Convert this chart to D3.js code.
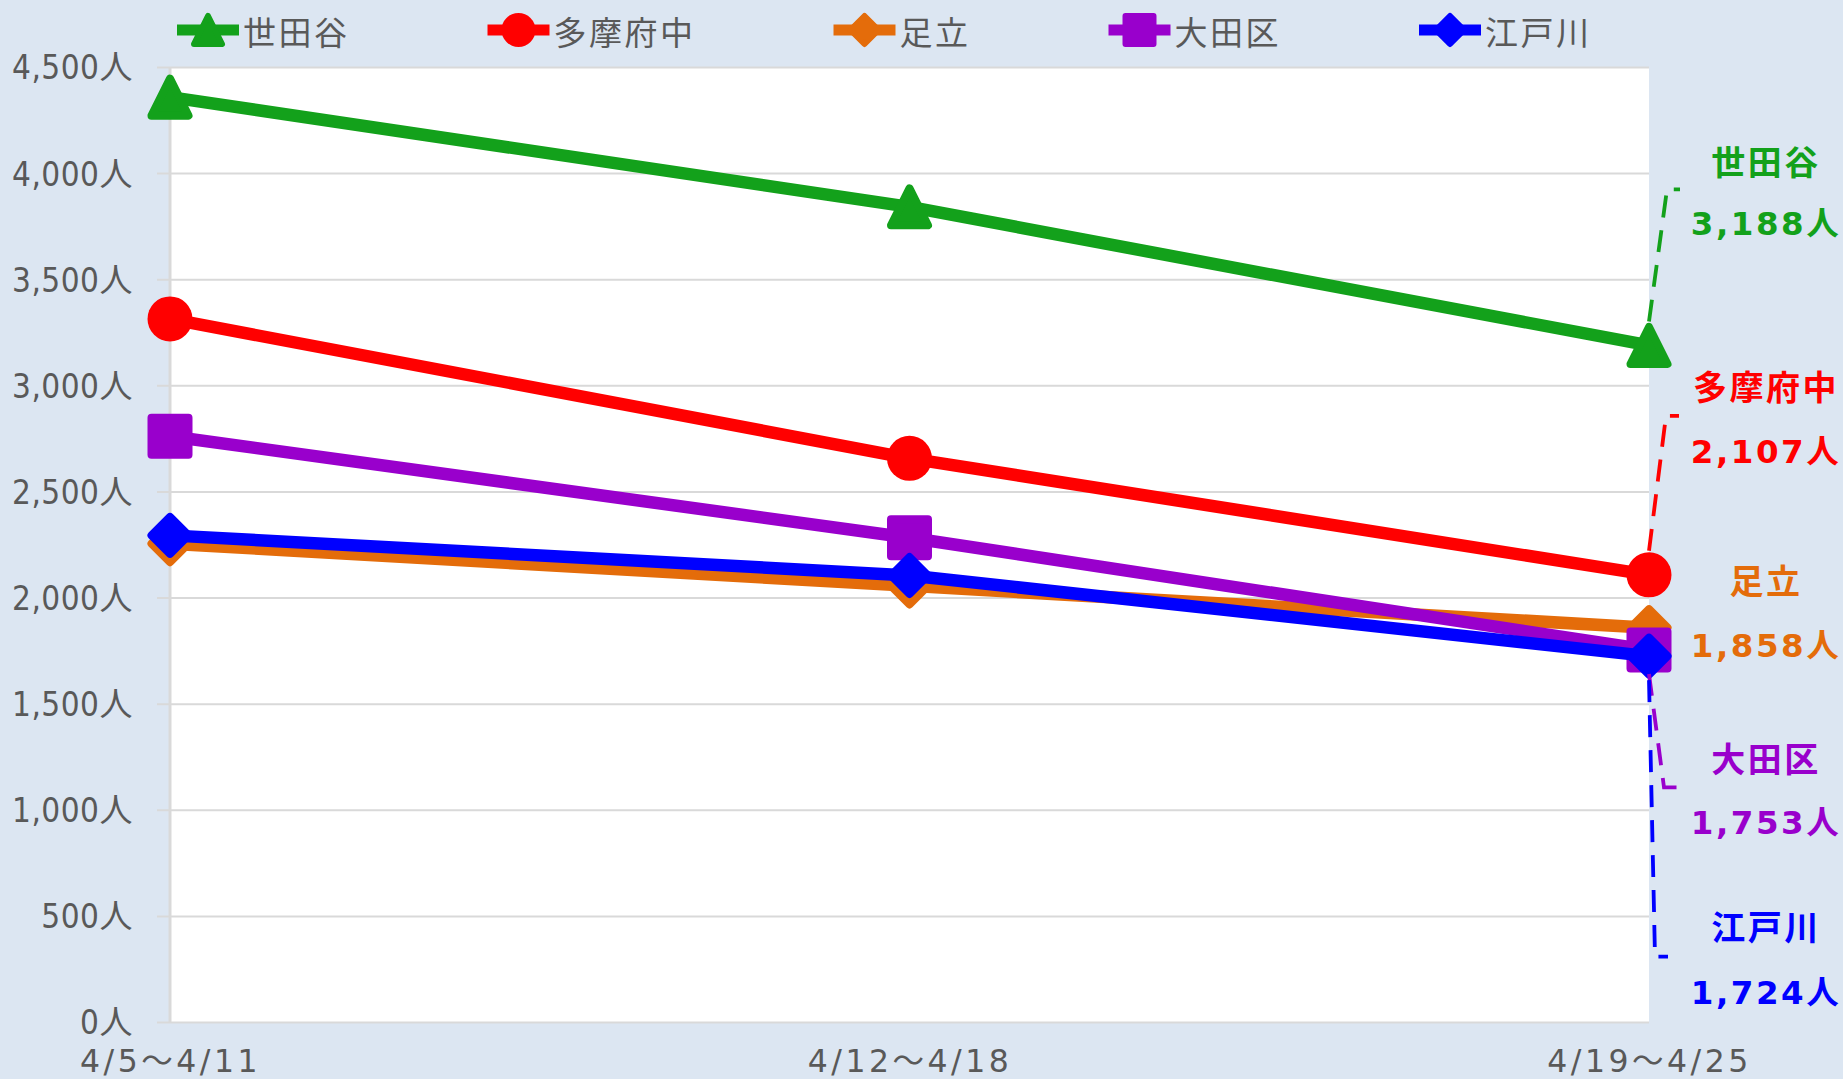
<!DOCTYPE html>
<html><head><meta charset="utf-8">
<script src="https://cdn.jsdelivr.net/npm/d3@7"></script>
<style>
html,body{margin:0;padding:0;background:#DCE6F2;}
svg{display:block;}
</style>
</head><body>
<svg id="chart" width="1843" height="1079"></svg>
<script>
// ---------- data ----------
const categories = ["4/5\u301C4/11", "4/12\u301C4/18", "4/19\u301C4/25"];
const seriesNames = ["世田谷", "多摩府中", "足立", "大田区", "江戸川"];
const setagaya  = [4358, 3841, 3188];
const tamaFuchu = [3313, 2656, 2107];
const adachi    = [2254, 2055, 1858];
const ota       = [2760, 2282, 1753];
const edogawa   = [2293, 2104, 1724];
const yTicks = [0, 500, 1000, 1500, 2000, 2500, 3000, 3500, 4000, 4500];

// ---------- styles / layout ----------
const seriesValues = [setagaya, tamaFuchu, adachi, ota, edogawa];
const colors  = ["#13A11B", "#FF0000", "#E46C0A", "#9900CC", "#0000FF"];
const markers = ["triangle", "circle", "diamond", "square", "diamond"];
// end-label layout: offsets (px) of name / value text from the last point, leader end offset
const endLayout = [
  {nameDy: -183, valDy: -122, leader: true,  leadX: 31},
  {nameDy: -187, valDy: -124, leader: true,  leadX: 30},
  {nameDy: -46,  valDy: 18,   leader: false, leadX: 0},
  {nameDy: 110,  valDy: 172,  leader: true,  leadX: 28},
  {nameDy: 272,  valDy: 336,  leader: true,  leadX: 19}
];

const W = 1843, H = 1079;
const plot = {left: 170, right: 1649, top: 67, bottom: 1022};
const svg = d3.select("#chart");

const x = d3.scalePoint().domain(categories).range([plot.left, plot.right]).padding(0);
const y = d3.scaleLinear().domain([0, 4500]).range([plot.bottom, plot.top]);

const fmt = d3.format(",");
const axisColor = "#595959";
const gridColor = "#D9D9D9";

// background
svg.append("rect").attr("width", W).attr("height", H).attr("fill", "#DCE6F2");
svg.append("rect").attr("x", plot.left).attr("y", plot.top)
  .attr("width", plot.right - plot.left).attr("height", plot.bottom - plot.top)
  .attr("fill", "#FFFFFF");

// gridlines + y labels via axis
const yAxis = d3.axisLeft(y).tickValues(yTicks)
  .tickSize(0).tickPadding(0)
  .tickFormat(d => fmt(d) + "人");
const gY = svg.append("g").attr("transform", `translate(${plot.left},0)`);
gY.call(yAxis);
gY.select(".domain").remove();
gY.selectAll(".tick line").attr("stroke", gridColor).attr("stroke-width", 2)
  .attr("x1", -13).attr("x2", plot.right - plot.left);
gY.selectAll(".tick text")
  .attr("x", -37)
  .attr("fill", axisColor)
  .style("font-family", "'DejaVu Sans Condensed','Noto Sans CJK JP',sans-serif")
  .style("font-size", "33px")
  .style("letter-spacing", "0.5px")
  .attr("dy", "0.36em");

// left axis line
svg.append("line").attr("x1", plot.left).attr("x2", plot.left)
  .attr("y1", plot.top).attr("y2", plot.bottom)
  .attr("stroke", gridColor).attr("stroke-width", 3);

// x axis labels
const xAxis = d3.axisBottom(x).tickSize(0).tickPadding(0);
const gX = svg.append("g").attr("transform", `translate(0,${plot.bottom})`).call(xAxis);
gX.select(".domain").remove();
gX.selectAll(".tick text")
  .attr("y", 39)
  .attr("dy", "0.36em")
  .attr("fill", axisColor)
  .style("font-family", "'DejaVu Sans','Noto Sans CJK JP',sans-serif")
  .style("font-size", "31.5px")
  .style("letter-spacing", "3.5px");

// marker shapes
function markerPath(type, s) {
  if (type === "triangle") return `M0,${-s}L${s},${s}L${-s},${s}Z`;
  if (type === "square") return `M${-s},${-s}H${s}V${s}H${-s}Z`;
  if (type === "diamond") return `M0,${-s}L${s},0L0,${s}L${-s},0Z`;
  return null;
}
function drawMarker(g, type, cx, cy, color, s, sw) {
  if (type === "circle") {
    g.append("circle").attr("cx", cx).attr("cy", cy).attr("r", s + sw / 2)
      .attr("fill", color);
  } else {
    g.append("path").attr("d", markerPath(type, s))
      .attr("transform", `translate(${cx},${cy})`)
      .attr("fill", color).attr("stroke", color)
      .attr("stroke-width", sw).attr("stroke-linejoin", "round");
  }
}

// series
const line = d3.line().x((d, i) => x(categories[i])).y(d => y(d));
const gS = svg.append("g");
seriesValues.forEach((vals, si) => {
  const g = gS.append("g");
  g.append("path").datum(vals).attr("d", line)
    .attr("fill", "none").attr("stroke", colors[si])
    .attr("stroke-width", 12.5).attr("stroke-linejoin", "round");
  vals.forEach((v, i) => drawMarker(g, markers[si], x(categories[i]), y(v), colors[si], 18.5, 8));
});

// end labels + leader lines
const gL = svg.append("g");
seriesValues.forEach((vals, si) => {
  const last = vals[vals.length - 1];
  const px = x(categories[categories.length - 1]);
  const py = y(last);
  const L = endLayout[si];
  const labelX = px + 117;
  const nameY = py + L.nameDy, valY = py + L.valDy;
  if (L.leader) {
    const midY = (nameY + valY) / 2 - 3.5;
    const ex = px + L.leadX, bx = ex - 13;
    const dirY = midY < py ? -1 : 1;
    const pts = [[px, py + dirY * 24], [bx, midY], [ex, midY]];
    gL.append("path").attr("d", d3.line()(pts))
      .attr("fill", "none").attr("stroke", colors[si])
      .attr("stroke-width", 3.8).attr("stroke-dasharray", "22,13");
  }
  gL.append("text").attr("x", labelX).attr("y", nameY).attr("dy", "0.36em")
    .attr("text-anchor", "middle").attr("fill", colors[si])
    .style("font-family", "'Noto Sans CJK JP',sans-serif")
    .style("font-weight", "bold").style("font-size", "34px")
    .style("letter-spacing", "2.5px")
    .text(seriesNames[si]);
  gL.append("text").attr("x", labelX).attr("y", valY).attr("dy", "0.36em")
    .attr("text-anchor", "middle").attr("fill", colors[si])
    .style("font-family", "'DejaVu Sans','Noto Sans CJK JP',sans-serif")
    .style("font-weight", "bold").style("font-size", "32.5px")
    .style("letter-spacing", "2.5px")
    .text(fmt(last) + "人");
});

// legend
const gLeg = svg.append("g");
let lx = 177;
const legY = 30;
seriesNames.forEach((name, si) => {
  const g = gLeg.append("g");
  g.append("line").attr("x1", lx).attr("x2", lx + 62).attr("y1", legY).attr("y2", legY)
    .attr("stroke", colors[si]).attr("stroke-width", 11);
  drawMarker(g, markers[si], lx + 31, legY, colors[si], 14, 6);
  const t = g.append("text").attr("x", lx + 66).attr("y", legY + 3).attr("dy", "0.36em")
    .attr("fill", axisColor)
    .style("font-family", "'Noto Sans CJK JP',sans-serif")
    .style("font-size", "33px").style("letter-spacing", "2.5px")
    .text(name);
  const tw = t.node().getComputedTextLength();
  lx = lx + 66 + tw + 138;
});
</script>
</body></html>
